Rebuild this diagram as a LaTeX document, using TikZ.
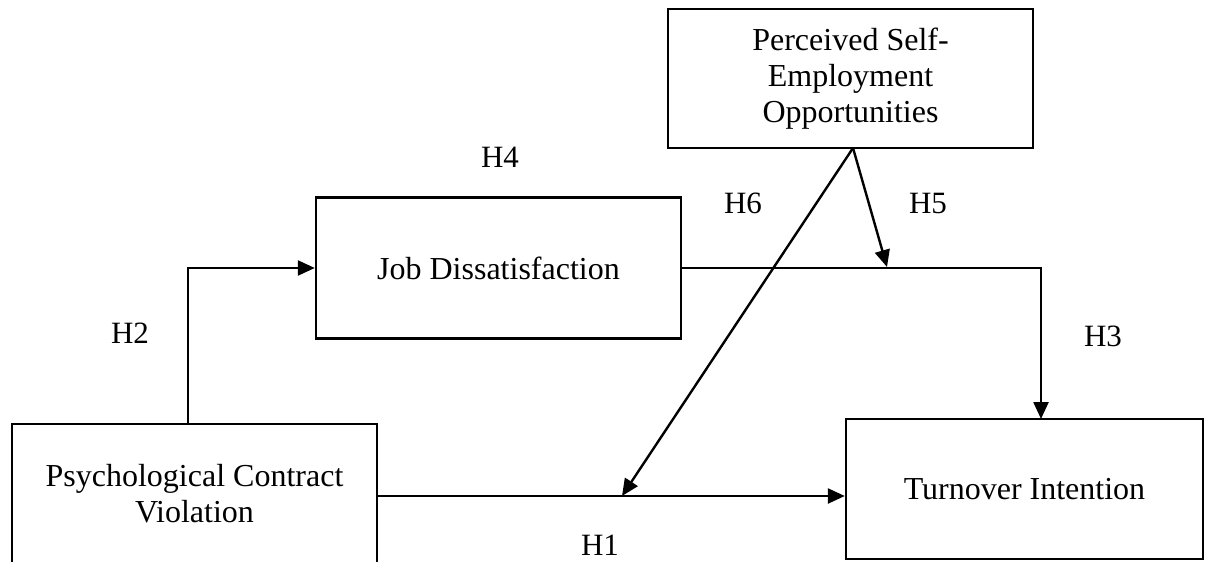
\documentclass[tikz,border=0pt]{standalone}
\usepackage{fontspec}
\setmainfont{Liberation Serif}
\usetikzlibrary{arrows.meta}
\begin{document}
\begin{tikzpicture}[x=1pt,y=-1pt,
  box/.style={draw,line width=2.4pt,rectangle,inner sep=0pt,align=center,
    font=\fontsize{32}{36}\selectfont},
  arr/.style={line width=2.4pt,-{Triangle[length=17pt,width=15pt]}},
  hlabel/.style={inner sep=0pt,font=\fontsize{31}{36}\selectfont}]
\useasboundingbox (0,0) rectangle (1208,562);
\clip (0,0) rectangle (1208,562);
\fill[white] (0,0) rectangle (1208,562);
\node[box,minimum width=365pt,minimum height=139pt] (pseo) at (850.5,78.5) {Perceived Self-\\Employment\\Opportunities};
\node[box,minimum width=365pt,minimum height=141pt] (jd) at (498.5,268) {Job Dissatisfaction};
\node[box,minimum width=365pt,minimum height=140pt] (pcv) at (194.5,494) {Psychological Contract\\Violation};
\node[box,minimum width=357pt,minimum height=140pt] (ti) at (1024.5,489) {Turnover Intention};
\coordinate (src) at (853,148);
\coordinate (m1) at (887,267);
\coordinate (m2) at (622,496);
\coordinate (h3) at (1041,419);
\coordinate (h2) at (188,424);
\draw[arr] (h2) |- (jd.west);
\draw[arr] (jd.east) -| (h3);
\draw[arr] (pcv.east |- m2) -- (ti.west |- m2);
\draw[arr] (src) -- (m1);
\draw[arr] (src) -- (m2);
\node[hlabel] (l4) at (500,157) {H4};
\node[hlabel] (l6) at (743,203) {H6};
\node[hlabel] (l5) at (928,203) {H5};
\node[hlabel] (l2) at (130,333) {H2};
\node[hlabel] (l3) at (1103,336) {H3};
\node[hlabel] (l1) at (600,545) {H1};
\end{tikzpicture}
\end{document}
